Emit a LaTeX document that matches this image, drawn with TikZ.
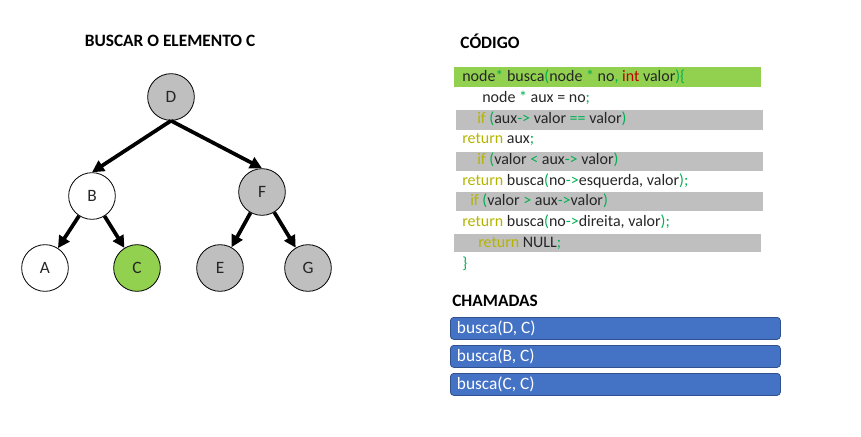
\documentclass[tikz,border=0pt]{standalone}
\usepackage{fontspec}
\setmainfont{Carlito}
\usetikzlibrary{arrows.meta}

\definecolor{verdeBar}{HTML}{92D050}
\definecolor{cinzaBar}{HTML}{BFBFBF}
\definecolor{verdeSym}{HTML}{00B050}
\definecolor{oliva}{HTML}{B4B400}
\definecolor{vermelho}{HTML}{C00000}
\definecolor{texto}{HTML}{262626}
\definecolor{azul}{HTML}{4472C4}
\definecolor{azulBorda}{HTML}{2F528F}

\newcommand{\kw}[1]{\textcolor{oliva}{#1}}
\newcommand{\sy}[1]{\textcolor{verdeSym}{#1}}
\newcommand{\ty}[1]{\textcolor{vermelho}{#1}}

\tikzset{
  no/.style={circle, draw, line width=0.6pt, minimum size=35pt, inner sep=0pt, text=texto, font=\fontsize{13}{15}\selectfont},
  visitado/.style={no, fill=cinzaBar},
  achado/.style={no, fill=verdeBar},
  aresta/.style={-{Triangle[length=9pt,width=9pt]}, line width=2.8pt},
  linha/.style={anchor=west, inner sep=0pt, text=texto, font=\fontsize{12}{14}\selectfont},
  titulo/.style={font=\bfseries\fontsize{13}{15}\selectfont},
  chamada/.style={rounded corners=2.5pt, fill=azul, draw=azulBorda, line width=0.6pt, minimum width=247.5pt, minimum height=16.5pt, anchor=north west, inner sep=0pt},
}

\begin{document}
\begin{tikzpicture}[x=0.75pt, y=-0.75pt]
\useasboundingbox (0,0) rectangle (861,436);

% arvore
\node[titulo] (tArvore) at (170,41) {BUSCAR O ELEMENTO C};
\node[visitado] (D) at (171,97) {D};
\node[no] (B) at (92,196) {B};
\node[visitado] (F) at (262,192) {F};
\node[no] (A) at (45,268) {A};
\node[achado] (C) at (137,268) {C};
\node[visitado] (E) at (220,268) {E};
\node[visitado] (G) at (308,268) {G};

\draw[aresta] (D.south) -- (B.north);
\draw[aresta] (D.south) -- (F.north);
\draw[aresta] (B) -- (A);
\draw[aresta] (B) -- (C);
\draw[aresta] (F) -- (E);
\draw[aresta] (F) -- (G);

% codigo
\node[titulo] (tCodigo) at (490,41) {CÓDIGO};
\fill[verdeBar] (454,67) rectangle (761,87);
\fill[cinzaBar] (456,110) rectangle (763,130);
\fill[cinzaBar] (456,152) rectangle (763,171);
\fill[cinzaBar] (456,192) rectangle (763,211);
\fill[cinzaBar] (454,234) rectangle (761,252);

\node[linha] (l1) at (462,77) {node\sy{*} busca\sy{(}node \sy{*} no\sy{,} \ty{int} valor\sy{)\{}};
\node[linha] (l2) at (482,98) {node \sy{*} aux = no\sy{;}};
\node[linha] (l3) at (477,119) {\kw{if} \sy{(}aux\sy{->} valor \sy{==} valor\sy{)}};
\node[linha] (l4) at (462,139) {\kw{return} aux\sy{;}};
\node[linha] (l5) at (477,160) {\kw{if} \sy{(}valor \sy{<} aux\sy{->} valor\sy{)}};
\node[linha] (l6) at (462,181) {\kw{return} busca\sy{(}no\sy{->}esquerda, valor\sy{);}};
\node[linha] (l7) at (470,201) {\kw{if} \sy{(}valor \sy{>} aux\sy{->}valor\sy{)}};
\node[linha] (l8) at (462,222) {\kw{return} busca\sy{(}no\sy{->}direita, valor\sy{);}};
\node[linha] (l9) at (478,243) {\kw{return} NULL\sy{;}};
\node[linha] (l10) at (462,264) {\sy{\}}};

% pilha de chamadas
\node[titulo] (tChamadas) at (495,301) {CHAMADAS};
\foreach \n/\txt [count=\i from 0] in {cD/{busca(D, C)}, cB/{busca(B, C)}, cC/{busca(C, C)}} {
  \node[chamada] (\n) at (450,317+28*\i) {};
  \node[anchor=west, text=white, inner sep=0pt, font=\fontsize{13}{15}\selectfont] at ([xshift=5pt]\n.west) {\txt};
}
\end{tikzpicture}
\end{document}
